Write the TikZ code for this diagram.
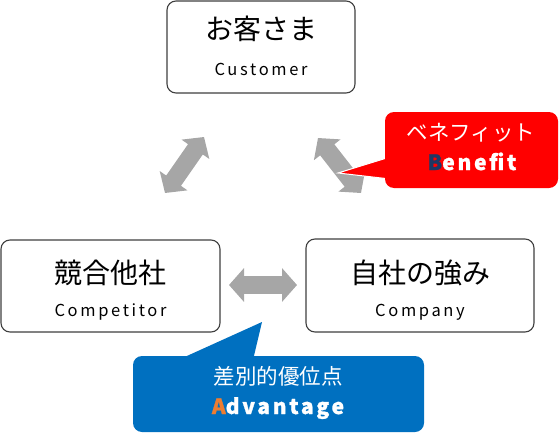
\documentclass[tikz,border=0pt]{standalone}
\usepackage{fontspec}
\setmainfont{Noto Sans CJK JP}
\newfontfamily\spaced[LetterSpace=16]{Noto Sans CJK JP}
\newfontfamily\heavysp[LetterSpace=13, BoldFeatures={FakeBold=1.2}]{Noto Sans CJK JP}
\usetikzlibrary{arrows.meta}
\definecolor{boxline}{HTML}{3F3F3F}
\definecolor{arrowgray}{HTML}{A6A6A6}
\definecolor{calloutred}{HTML}{FF0000}
\definecolor{calloutblue}{HTML}{0070C0}
\definecolor{navyB}{HTML}{1F3864}
\definecolor{orangeA}{HTML}{ED7D31}
\begin{document}
\begin{tikzpicture}[x=1pt,y=-1pt,
  box/.style={draw=boxline, line width=1.1pt, rounded corners=9pt, fill=white, inner sep=0pt},
  jp/.style={font=\fontsize{28}{32}\selectfont, inner sep=0pt},
  en/.style={font=\spaced\fontsize{16.5}{19}\selectfont, inner sep=0pt, anchor=base},
  dbl/.style={draw=arrowgray, line width=18pt, line cap=butt,
    {Triangle[width=33pt,length=15pt]}-{Triangle[width=33pt,length=15pt]}},
  calljp/.style={font=\fontsize{21.5}{24}\selectfont, text=white, inner sep=0pt},
  callen/.style={font=\heavysp\bfseries\fontsize{21}{24}\selectfont, text=white, inner sep=0pt, anchor=base}]
\useasboundingbox (0,0) rectangle (560,434);

% boxes
\node[box, minimum width=188pt, minimum height=92pt] (cust) at (261,47) {};
\node[box, minimum width=219pt, minimum height=92pt] (comp) at (110.5,286) {};
\node[box, minimum width=228pt, minimum height=93pt] (self) at (420,285.5) {};

\node[jp] (custjp) at (261,29) {お客さま};
\node[en] (custen) at (261,75) {Customer};
\node[jp] (compjp) at (110.5,273) {競合他社};
\node[en] (compen) at (110.5,316) {Competitor};
\node[jp] (selfjp) at (420,273) {自社の強み};
\node[en] (selfen) at (420,316) {Company};

% double arrows
\coordinate (la1) at (165,193);
\coordinate (la2) at (204,137);
\coordinate (ra1) at (318,138);
\coordinate (ra2) at (361,193);
\coordinate (ha1) at (229,285);
\coordinate (ha2) at (297,285);
\draw[dbl] (la1) -- (la2);
\draw[dbl] (ra1) -- (ra2);
\draw[dbl] (ha1) -- (ha2);

% red callout
\coordinate (rtip) at (338,173);
\fill[calloutred, draw=white, line width=1pt] (rtip) -- (390,157) -- (390,179) -- cycle;
\fill[calloutred, rounded corners=9pt] (385,112) rectangle (558,188);
\node[calljp] (benjp) at (471,133) {ベネフィット};
\node[callen] (benen) at (472,170) {\textcolor{navyB}{B}enefit};

% blue callout
\coordinate (btip) at (262,322);
\fill[calloutblue] (btip) -- (178,360) -- (253,360) -- cycle;
\fill[calloutblue, rounded corners=9pt] (133,356) rectangle (424,432);
\node[calljp] (advjp) at (278,376) {差別的優位点};
\node[callen] (adven) at (278,414) {\textcolor{orangeA}{A}dvantage};
\end{tikzpicture}
\end{document}
